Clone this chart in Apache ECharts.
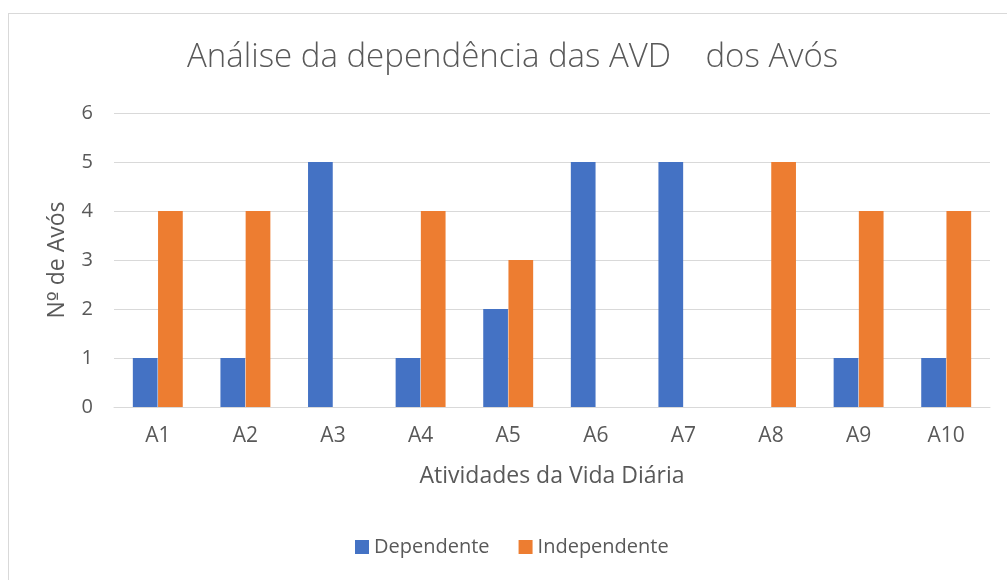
<!DOCTYPE html>
<html>
<head>
<meta charset="utf-8">
<script src="https://cdn.jsdelivr.net/npm/echarts@6/dist/echarts.min.js"></script>
<style>
  html, body { margin: 0; padding: 0; background: #fff; overflow: hidden; }
  #frame { position: absolute; left: 8px; top: 13px; width: 1020px; height: 600px; border: 1px solid #d9d9d9; box-sizing: border-box; }
  #chart { position: absolute; left: 0; top: 0; width: 1007px; height: 580px; }
</style>
</head>
<body>
<div id="frame"></div>
<div id="chart"></div>
<script>
// Activities of daily living (AVD) and how many grandparents depend on help for each
const categories = ['A1', 'A2', 'A3', 'A4', 'A5', 'A6', 'A7', 'A8', 'A9', 'A10'];
const dependente = [1, 1, 5, 1, 2, 5, 5, 0, 1, 1];
const independente = [4, 4, 0, 4, 3, 0, 0, 5, 4, 4];
const seriesNames = ['Dependente', 'Independente'];

const textColor = '#595959';
const fontFamily = '"Open Sans", "Noto Sans", sans-serif';

const chart = echarts.init(document.getElementById('chart'), null, { renderer: 'canvas' });
chart.setOption({
  animation: false,
  textStyle: { fontFamily: fontFamily },
  title: {
    text: 'Análise da dependência das AVD    dos Avós',
    left: 182,
    top: 36,
    textStyle: { fontFamily: fontFamily, fontSize: 33, fontWeight: 300, color: textColor }
  },
  legend: {
    data: seriesNames,
    left: 350,
    top: 532,
    itemWidth: 14,
    itemHeight: 14,
    itemGap: 29,
    icon: 'rect',
    textStyle: { fontFamily: fontFamily, fontSize: 20, color: textColor }
  },
  grid: { left: 114, right: 17, top: 113, bottom: 173 },
  xAxis: {
    type: 'category',
    data: categories,
    name: 'Atividades da Vida Diária',
    nameLocation: 'middle',
    nameGap: 58,
    nameTextStyle: { fontFamily: fontFamily, fontSize: 23, color: textColor },
    axisLine: { lineStyle: { color: '#d9d9d9', width: 1 } },
    axisTick: { show: false },
    axisLabel: { fontFamily: fontFamily, fontSize: 21, color: textColor, margin: 19 }
  },
  yAxis: {
    type: 'value',
    min: 0,
    max: 6,
    interval: 1,
    // the ordinal sign is set in DejaVu Sans, which draws it underlined
    name: '{t|N}{o|º}{t| de Avós}',
    nameLocation: 'middle',
    nameGap: 45,
    nameTextStyle: {
      fontFamily: fontFamily, fontSize: 23, color: textColor,
      rich: {
        t: { fontFamily: fontFamily, fontSize: 23, color: textColor },
        o: { fontFamily: '"DejaVu Sans", sans-serif', fontSize: 21, color: textColor }
      }
    },
    axisLine: { show: false },
    axisTick: { show: false },
    axisLabel: { fontFamily: fontFamily, fontSize: 20, color: textColor, margin: 21 },
    splitLine: { lineStyle: { color: '#d9d9d9', width: 1 } }
  },
  series: [
    {
      name: seriesNames[0],
      type: 'bar',
      data: dependente,
      barGap: '2%',
      barCategoryGap: '43%',
      itemStyle: { color: '#4472C4' }
    },
    {
      name: seriesNames[1],
      type: 'bar',
      data: independente,
      barGap: '2%',
      barCategoryGap: '43%',
      itemStyle: { color: '#ED7D31' }
    }
  ]
});
</script>
</body>
</html>
